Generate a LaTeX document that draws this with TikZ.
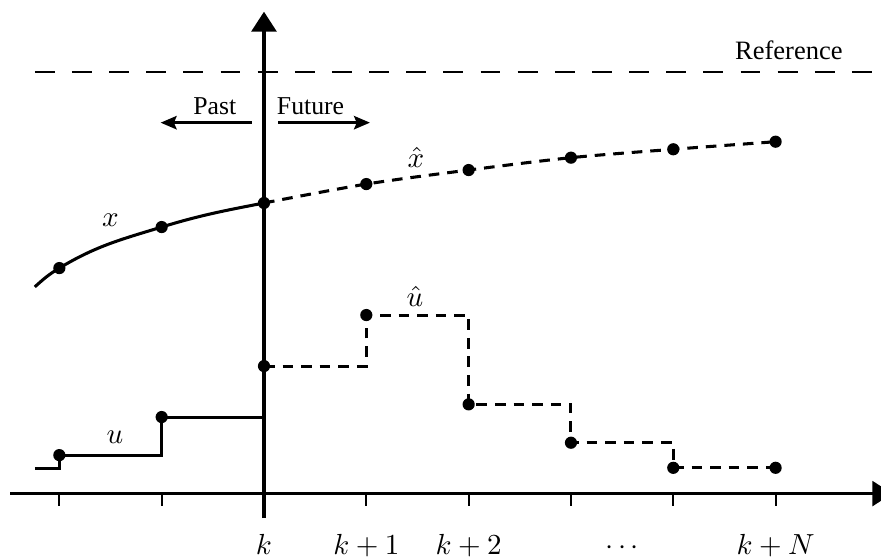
\documentclass[tikz,border=0pt]{standalone}
\usepackage{fontspec}
\setmainfont{Liberation Serif}
\usetikzlibrary{arrows.meta, positioning, calc}
\tikzset{
	axisline/.style={line width=1.35pt, -{Triangle[length=7.5pt, width=9.3pt]}},
	tickmark/.style={line width=0.8pt},
	meas/.style={line width=1.15pt},
	pred/.style={line width=1.15pt, dash pattern=on 4pt off 3pt},
	refline/.style={line width=1.05pt, dash pattern=on 7.5pt off 6.5pt},
	dirarrow/.style={line width=1.1pt, -{Stealth[length=6pt, width=5pt, inset=1pt]}},
	dot/.style={circle, fill=black, inner sep=0pt, minimum size=4.6pt},
}

\begin{document}
\begin{tikzpicture}[x=1.3555cm, y=1.3555cm,
			lbl/.style={font=\fontsize{9.7}{11}\selectfont, inner sep=0pt, anchor=base},
			tlbl/.style={font=\fontsize{11.3}{13}\selectfont, inner sep=0pt, anchor=base},
			vlbl/.style={inner sep=0pt, font=\fontsize{10.5}{12}\selectfont}]
	\useasboundingbox (-2.58,-0.63) rectangle (6.03,4.824);
	% axes
	\coordinate (hl) at (-2.48,0);
	\coordinate (hr) at (6.14,0);
	\coordinate (vb) at (0,-0.24);
	\coordinate (vt) at (0,4.71);
	\draw[axisline] (hl) -- (hr);
	\draw[axisline] (vb) -- (vt);
	\foreach \i in {-2,...,5}
		\draw[tickmark] (\i,0) -- (\i,-0.12);
	\node[tlbl] (tk0) at (0,-0.6) {$k$};
	\node[tlbl] (tk1) at (1,-0.6) {$k+1$};
	\node[tlbl] (tk2) at (2,-0.6) {$k+2$};
	\node[tlbl] (tkd) at (3.5,-0.6) {$\cdots$};
	\node[tlbl] (tkN) at (5,-0.6) {$k+N$};
	% reference
	\coordinate (rl) at (-2.24,4.12);
	\coordinate (rr) at (6.03,4.12);
	\draw[refline] (rl) -- (rr);
	\node[lbl, font=\fontsize{10}{12}\selectfont] (ref) at (5.13,4.24) {Reference};
	% past / future
	\coordinate (ps) at (-0.12,3.625);
	\coordinate (pe) at (-1.01,3.625);
	\coordinate (fs) at (0.137,3.625);
	\coordinate (fe) at (1.036,3.625);
	\draw[dirarrow] (ps) -- (pe);
	\draw[dirarrow] (fs) -- (fe);
	\node[lbl] (past) at (-0.48,3.70) {Past};
	\node[lbl] (fut) at (0.455,3.70) {Future};
	% state x and prediction
	\coordinate (xs) at (-2.24,2.02);
	\node[dot] (xm2) at (-2,2.204) {};
	\node[dot] (xm1) at (-1,2.605) {};
	\node[dot] (x0) at (0,2.84) {};
	\node[dot] (x1) at (1,3.025) {};
	\node[dot] (x2) at (2,3.162) {};
	\node[dot] (x3) at (3,3.283) {};
	\node[dot] (x4) at (4,3.365) {};
	\node[dot] (x5) at (5,3.439) {};
	\draw[meas] (xs) to[out=42,in=211] (xm2.center) to[out=31,in=197] (xm1.center) to[out=17,in=191] (x0.center);
	\draw[pred] plot[smooth] coordinates {(x0.center) (x1.center) (x2.center) (x3.center) (x4.center) (x5.center)};
	\node[vlbl] (xlab) at (-1.5,2.673) {$x$};
	\node[vlbl] (xhlab) at (1.486,3.286) {$\hat{x}$};
	% input u and prediction
	\coordinate (us) at (-2.24,0.249);
	\node[dot] (um2) at (-2,0.376) {};
	\node[dot] (um1) at (-1,0.748) {};
	\coordinate (ue) at (0,0.748);
	\draw[meas] (us) -| (um2.center) -| (um1.center) -- (ue);
	\node[dot] (u0) at (0,1.246) {};
	\node[dot] (u1) at (1,1.745) {};
	\node[dot] (u2) at (2,0.872) {};
	\node[dot] (u3) at (3,0.497) {};
	\node[dot] (u4) at (4,0.252) {};
	\node[dot] (u5) at (5,0.252) {};
	\draw[pred] (u0.center) -| (u1.center) -| (u2.center) -| (u3.center) -| (u4.center) -- (u5.center);
	\node[vlbl] (ulab) at (-1.456,0.552) {$u$};
	\node[vlbl] (uhlab) at (1.476,1.926) {$\hat{u}$};
\end{tikzpicture}
\end{document}
